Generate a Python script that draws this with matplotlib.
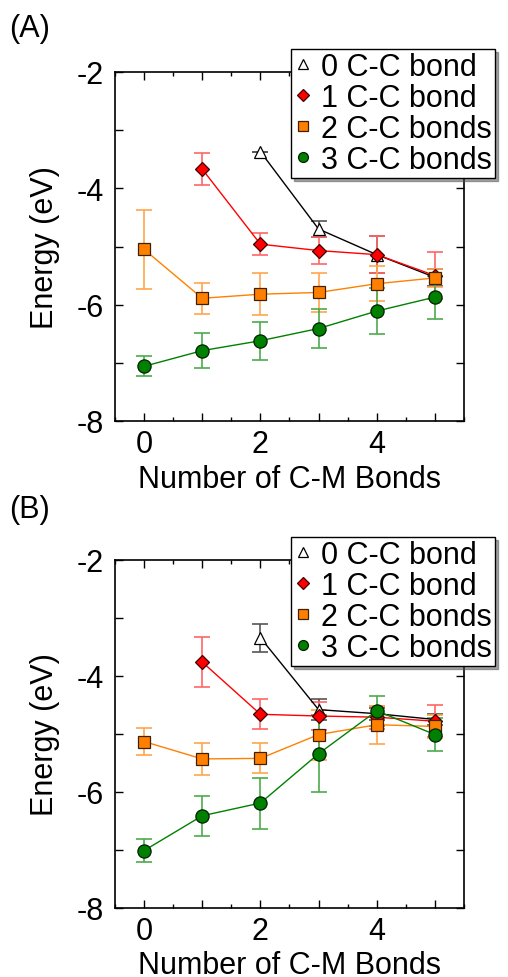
import matplotlib
matplotlib.use("Agg")
import matplotlib.pyplot as plt
from matplotlib.ticker import MultipleLocator, FuncFormatter
import numpy as np

plt.rcParams['font.family'] = ['Liberation Sans', 'DejaVu Sans']

x_all = [0, 1, 2, 3, 4, 5]
labels = ["0 C-C bond", "1 C-C bond", "2 C-C bonds", "3 C-C bonds"]

# Panel A
a_x0 = [2, 3, 4, 5]
a_y0 = [-3.37, -4.70, -5.14, -5.53]
a_e0 = [0.0, 0.14, 0.32, 0.15]
a_x1 = [1, 2, 3, 4, 5]
a_y1 = [-3.67, -4.96, -5.07, -5.14, -5.50]
a_e1 = [0.27, 0.19, 0.23, 0.32, 0.40]
a_y2 = [-5.05, -5.89, -5.82, -5.79, -5.64, -5.54]
a_e2 = [0.68, 0.27, 0.36, 0.33, 0.30, 0.15]
a_y3 = [-7.06, -6.79, -6.62, -6.41, -6.11, -5.87]
a_e3 = [0.17, 0.30, 0.33, 0.34, 0.39, 0.37]

# Panel B
b_x0 = [2, 3, 4, 5]
b_y0 = [-3.34, -4.58, -4.65, -4.75]
b_e0 = [0.24, 0.18, 0.10, 0.10]
b_x1 = [1, 2, 3, 4, 5]
b_y1 = [-3.76, -4.66, -4.69, -4.71, -4.78]
b_e1 = [0.43, 0.26, 0.24, 0.20, 0.28]
b_y2 = [-5.13, -5.43, -5.42, -5.01, -4.84, -4.87]
b_e2 = [0.24, 0.27, 0.26, 0.43, 0.33, 0.20]
b_y3 = [-7.01, -6.41, -6.19, -5.34, -4.60, -5.01]
b_e3 = [0.20, 0.34, 0.44, 0.66, 0.26, 0.28]

col0, col1, col2, col3 = "black", "#ff0000", "#ff8000", "#008000"
ecol0, ecol1, ecol2, ecol3 = "#555555", "#ff6666", "#ffa64d", "#4dab4d"

FS = 22

fig = plt.figure(figsize=(5.08, 9.78), dpi=100)
axA = fig.add_axes([115/508, (978-422)/978, 349/508, 349/978])
axB = fig.add_axes([115/508, (978-909)/978, 349/508, 348/978])


def draw(ax, x0, y0, e0, x1, y1, e1, y2, e2, y3, e3):
    specs = [
        (x0, y0, e0, col0, ecol0, "^", "white", "black", 9),
        (x1, y1, e1, col1, ecol1, "D", col1, "#400000", 7.5),
        (x_all, y2, e2, col2, ecol2, "s", col2, "#402000", 9),
        (x_all, y3, e3, col3, ecol3, "o", col3, "#002000", 9.5),
    ]
    handles = []
    for (xx, yy, ee, c, ec, m, fc, mec, ms), lab in zip(specs, labels):
        ax.errorbar(xx, yy, yerr=ee, fmt="none", ecolor=ec, elinewidth=1.2,
                    capsize=5.5, capthick=1.2, zorder=2)
        ax.plot(xx, yy, "-", color=c, lw=1.0, zorder=3)
        ax.plot(xx, yy, m, ms=ms, mfc=fc, mec=mec, mew=0.9, ls="none", zorder=4)
        h, = ax.plot([], [], m, ms=ms*0.75, mfc=fc, mec=mec, mew=0.9, ls="none", label=lab)
        handles.append(h)
    ax.set_xlim(-0.5, 5.5)
    ax.set_ylim(-8, -2)
    ax.xaxis.set_major_locator(MultipleLocator(1))
    ax.xaxis.set_minor_locator(MultipleLocator(0.5))
    ax.xaxis.set_major_formatter(FuncFormatter(lambda v, p: f"{int(round(v))}" if int(round(v)) % 2 == 0 else ""))
    ax.yaxis.set_major_locator(MultipleLocator(1))
    ax.yaxis.set_major_formatter(FuncFormatter(lambda v, p: f"{int(round(v))}" if int(round(v)) % 2 == 0 else ""))
    ax.tick_params(which="both", direction="in", top=True, right=True, labelsize=FS)
    ax.tick_params(axis="x", pad=6)
    ax.tick_params(axis="y", pad=8)
    ax.tick_params(which="major", length=6, width=1)
    ax.tick_params(which="minor", length=3, width=1)
    for s in ax.spines.values():
        s.set_linewidth(1.2)
    ax.set_xlabel("Number of C-M Bonds", fontsize=FS, labelpad=3)
    ax.set_ylabel("Energy (eV)", fontsize=FS, labelpad=12)
    leg = ax.legend(handles=handles, loc="upper left", bbox_to_anchor=(0.504, 1.066),
                    fontsize=FS, frameon=True, fancybox=False, shadow=True,
                    handlelength=0.6, handletextpad=0.3, borderpad=0.1,
                    labelspacing=0.03, borderaxespad=0)
    leg.get_frame().set_edgecolor("black")
    leg.get_frame().set_linewidth(1.0)
    leg.set_zorder(10)


draw(axA, a_x0, a_y0, a_e0, a_x1, a_y1, a_e1, a_y2, a_e2, a_y3, a_e3)
draw(axB, b_x0, b_y0, b_e0, b_x1, b_y1, b_e1, b_y2, b_e2, b_y3, b_e3)

fig.text(9/508, 1 - 29/978, "(A)", fontsize=FS, va="center", ha="left")
fig.text(9/508, 1 - 510/978, "(B)", fontsize=FS, va="center", ha="left")

fig.savefig("out.png", dpi=100)
